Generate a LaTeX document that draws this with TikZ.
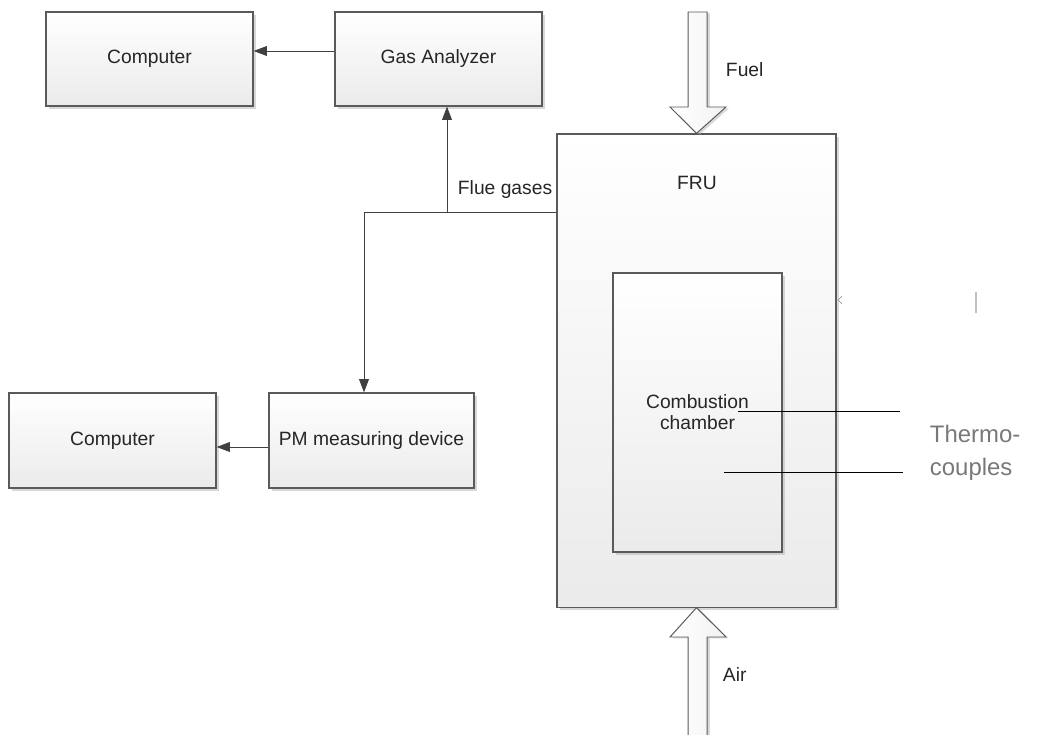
\documentclass[tikz,border=0pt]{standalone}
\usepackage{fontspec}
\setmainfont{Liberation Sans}
\usetikzlibrary{positioning,arrows.meta,shapes,calc,shadows}
\definecolor{EdgeGray}{RGB}{90,90,90}
\definecolor{FlowGray}{RGB}{64,64,64}
\definecolor{NoteGray}{RGB}{120,120,120}

\begin{document}
\begin{tikzpicture}[
    x=0.025cm, y=-0.025cm,
    every node/.style={font=\fontsize{13.7}{16}\selectfont, text=black!85},
    block/.style={rectangle, draw=EdgeGray, line width=0.8pt, top color=white,
        bottom color=gray!16, minimum width=5.175cm, minimum height=2.35cm,
        drop shadow={shadow xshift=2pt, shadow yshift=-2pt, fill=gray!60, opacity=.5}},
    flow/.style={-{Triangle[length=9.5pt, width=7pt]}, line width=0.7pt, FlowGray},
    bigarrow/.style={draw=EdgeGray, line width=0.7pt, left color=white, right color=gray!10,
        drop shadow={shadow xshift=2pt, shadow yshift=-1pt, fill=gray!60, opacity=.5}},
    probe/.style={line width=0.7pt, black},
]
\useasboundingbox (0,0) rectangle (1037,735);

% gas line
\node[block] (comp1) at (149.5,59) {Computer};
\node[block] (gas) at (438.5,59) {Gas Analyzer};

% particle line
\node[block, minimum width=5.125cm, minimum height=2.375cm] (pm) at (371.5,440.5) {PM measuring device};
\node[block, minimum width=5.175cm, minimum height=2.375cm] (comp2) at (112.5,440.5) {Computer};

% reactor and inner chamber
\node[block, minimum width=6.975cm, minimum height=11.825cm] (fru) at (696.5,370.5) {};
\node (frutxt) at (697,183) {FRU};
\node[block, minimum width=4.225cm, minimum height=6.975cm, align=center,
    drop shadow={shadow xshift=1pt, shadow yshift=-1pt, fill=gray!40, opacity=.4}]
    (chamber) at (697.5,412.5) {Combustion\\[-1pt]chamber};

% fuel in from the top, air from below
\draw[bigarrow] (688,12) -- (707,12) -- (707,107) -- (726,107) -- (fru.north)
    -- (670,107) -- (688,107) -- cycle;
\node[anchor=west] (fuel) at (721,70) {Fuel};
\draw[bigarrow] (fru.south) -- (726,637) -- (707,637) -- (707,745) -- (688,745)
    -- (688,637) -- (670,637) -- cycle;
\node[anchor=west] (air) at (718,675) {Air};

% flue gas take-off
\coordinate (split) at (447,212);
\coordinate (bend) at (364,212);
\draw[line width=0.7pt, FlowGray] (fru.west |- split) -- (bend);
\draw[flow] (split) -- (gas.south -| split);
\draw[flow] (bend) -- (pm.north -| bend);
\node[anchor=west] (flue) at (453,190) {Flue gases};

\draw[flow] ($(gas.west)+(0,-8)$) -- ($(comp1.east)+(0,-8)$);
\draw[flow] ($(pm.west)+(0,6.5)$) -- ($(comp2.east)+(0,6.5)$);

% thermocouples
\coordinate (tc1) at (738,411);
\coordinate (tc1end) at (900,411);
\coordinate (tc2) at (724,472);
\coordinate (tc2end) at (903,472);
\draw[probe] (tc1) -- (tc1end);
\draw[probe] (tc2) -- (tc2end);
\node[anchor=west, align=left, text=NoteGray, font=\fontsize{17}{23.5}\selectfont]
    (tctxt) at (925,453) {Thermo-\\couples};

% small marks
\draw[gray!80, line width=0.5pt] (842,296) -- (838,300) -- (842,304);
\draw[gray!50, line width=0.8pt] (976,292) -- (976,313);
\end{tikzpicture}
\end{document}
